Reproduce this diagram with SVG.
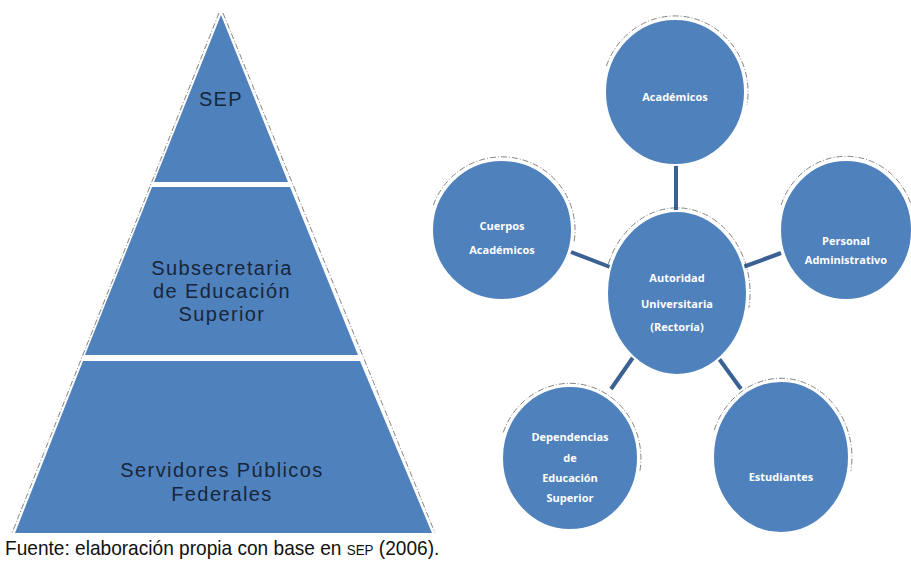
<svg xmlns="http://www.w3.org/2000/svg" width="911" height="562" viewBox="0 0 911 562">
  <style>
    .band { fill: #4f81bd; }
    .ptext { font-family: "Liberation Sans", Arial, sans-serif; font-size: 20px; fill: #17263a; text-anchor: middle; letter-spacing: 1.4px; }
    .node { fill: #4f81bd; stroke: #ffffff; stroke-width: 2; }
    .rim { fill: none; stroke: #444; stroke-width: 1; stroke-dasharray: 6 2 1 2; opacity: 0.65; }
    .ntext { font-family: "Open Sans", "Liberation Sans", sans-serif; font-size: 11px; font-weight: bold; fill: #ffffff; text-anchor: middle; }
    .link { stroke: #3a6192; stroke-width: 4; stroke-linecap: butt; }
    .caption { font-family: "Liberation Sans", Arial, sans-serif; font-size: 20px; fill: #111; }
    .smallcaps { font-size: 14px; }
  </style>
  <rect width="911" height="562" fill="#ffffff"/>

  <!-- Pyramid -->
  <g id="pyramid">
    <line x1="219" y1="13" x2="12" y2="533" class="rim"/>
    <line x1="223" y1="13" x2="435" y2="533" class="rim"/>
    <g id="level-sep">
      <polygon class="band" points="221,15 288,182 154,182"/>
      <text class="ptext" x="221" y="106">SEP</text>
    </g>
    <g id="level-subsecretaria">
      <polygon class="band" points="152,187 290,187 358,355 85,355"/>
      <text class="ptext" x="222" y="275">Subsecretaria</text>
      <text class="ptext" x="222" y="298">de Educación</text>
      <text class="ptext" x="222" y="321">Superior</text>
    </g>
    <g id="level-servidores">
      <polygon class="band" points="83,361 360,361 432,533 15,533"/>
      <text class="ptext" x="222" y="477">Servidores Públicos</text>
      <text class="ptext" x="222" y="501">Federales</text>
    </g>
  </g>

  <!-- Connectors -->
  <g id="connectors">
    <line class="link" x1="676" y1="165" x2="676" y2="213"/>
    <line class="link" x1="571" y1="252" x2="610" y2="267"/>
    <line class="link" x1="743" y1="267" x2="781" y2="253"/>
    <line class="link" x1="634" y1="356" x2="611" y2="389"/>
    <line class="link" x1="717" y1="356" x2="741" y2="389"/>
  </g>

  <!-- Nodes: each has a faint dashed rim over its upper-right side -->
  <g id="node-academicos">
    <path class="rim" d="M 606.4 66 A 73 76 0 0 1 746.9 105.2"/>
    <ellipse class="node" cx="675" cy="92" rx="70" ry="73"/>
    <text class="ntext" x="675" y="101">Académicos</text>
  </g>
  <g id="node-cuerpos">
    <path class="rim" d="M 433.4 205 A 73 73 0 0 1 573.9 242.7"/>
    <ellipse class="node" cx="502" cy="230" rx="70" ry="70"/>
    <text class="ntext" x="502" y="230">Cuerpos</text>
    <text class="ntext" x="502" y="254">Académicos</text>
  </g>
  <g id="node-autoridad">
    <path class="rim" d="M 608.4 263.9 A 73 85 0 0 1 748.9 307.8"/>
    <ellipse class="node" cx="677" cy="293" rx="70" ry="82"/>
    <text class="ntext" x="677" y="282">Autoridad</text>
    <text class="ntext" x="677" y="308">Universitaria</text>
    <text class="ntext" x="677" y="331">(Rectoría)</text>
  </g>
  <g id="node-personal">
    <path class="rim" d="M 781.1 205 A 69 73 0 0 1 914 242.7"/>
    <ellipse class="node" cx="846" cy="230" rx="66" ry="70"/>
    <text class="ntext" x="846" y="245">Personal</text>
    <text class="ntext" x="846" y="264">Administrativo</text>
  </g>
  <g id="node-dependencias">
    <path class="rim" d="M 503.3 432.4 A 71 75 0 0 1 639.9 471"/>
    <ellipse class="node" cx="570" cy="458" rx="68" ry="72"/>
    <text class="ntext" x="570" y="441">Dependencias</text>
    <text class="ntext" x="570" y="462">de</text>
    <text class="ntext" x="570" y="482">Educación</text>
    <text class="ntext" x="570" y="502">Superior</text>
  </g>
  <g id="node-estudiantes">
    <path class="rim" d="M 714.3 430 A 71 79 0 0 1 850.9 470.7"/>
    <ellipse class="node" cx="781" cy="457" rx="68" ry="76"/>
    <text class="ntext" x="781" y="481">Estudiantes</text>
  </g>

  <!-- Source note, set in a condensed width -->
  <g transform="translate(5,555) scale(0.955,1)">
    <text class="caption" x="0" y="0">Fuente: elaboración propia con base en <tspan class="smallcaps">SEP</tspan> (2006).</text>
  </g>
</svg>
